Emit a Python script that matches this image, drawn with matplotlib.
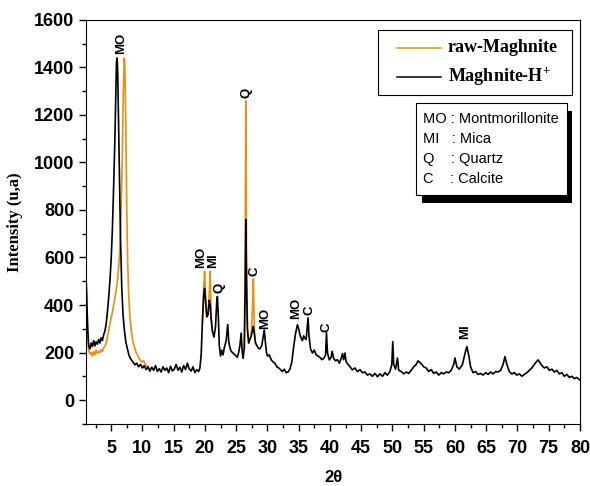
import matplotlib.pyplot as plt
import numpy as np
from matplotlib.patches import Rectangle

import matplotlib

matplotlib.rcParams.update({"font.family": ["Liberation Sans", "DejaVu Sans"],
                            "mathtext.fontset": "custom",
                            "mathtext.rm": "Liberation Serif:bold"})

nan = float("nan")

# Maghnite-H+ (black), 2theta / intensity
acid_2theta = [
    1.0, 1.1, 1.25, 1.4, 1.6, 1.8, 2.0, 2.2, 2.4, 2.6, 2.8, 3.0, 3.2, 3.4, 3.6, 3.8,
    4.0, 4.2, 4.4, 4.6, 4.8, 5.0, 5.2, 5.4, 5.6, 5.75, 5.85, 5.95, 6.05, 6.2, 6.35,
    6.5, 6.7, 6.9, 7.1, 7.35, 7.6, 7.9, 8.2, 8.5, 8.8, 9.1, 9.4, 9.7, 10.0, 10.3,
    10.6, 10.9, 11.2, 11.5, 11.8, 12.1, 12.4, 12.7, 13.0, 13.3, 13.6, 13.9, 14.2,
    14.5, 14.8, 15.1, 15.4, 15.7, 16.0, 16.3, 16.6, 16.9, 17.2, 17.5, 17.8, 18.1,
    18.4, 18.7, 19.0, 19.2, 19.4, 19.6, 19.8, 19.95, 20.1, 20.3, 20.5, 20.7, 20.85,
    21.0, 21.2, 21.45, 21.7, 21.9, 22.0, 22.15, 22.3, 22.5, 22.7, 22.9, 23.1, 23.4,
    23.65, 23.8, 24.0, 24.2, 24.5, 24.8, 25.0, 25.2, 25.4, 25.6, 25.8, 25.95, 26.1,
    26.3, 26.45, 26.55, 26.65, 26.8, 27.0, 27.2, 27.4, 27.6, 27.75, 27.9, 28.1,
    28.3, 28.5, 28.8, 29.1, 29.35, 29.5, 29.65, 29.85, 30.0, 30.3, 30.6, 30.9,
    31.2, 31.5, 31.8, 32.1, 32.4, 32.7, 33.0, 33.3, 33.6, 33.9, 34.2, 34.5, 34.8,
    35.0, 35.2, 35.4, 35.6, 35.8, 36.0, 36.2, 36.35, 36.5, 36.65, 36.9, 37.2, 37.5,
    37.8, 38.1, 38.4, 38.7, 39.0, 39.3, 39.45, 39.6, 39.9, 40.2, 40.35, 40.6, 40.9,
    41.2, 41.5, 41.8, 42.0, 42.2, 42.4, 42.6, 42.9, 43.2, 43.6, 44.0, 44.4, 44.8,
    45.2, 45.6, 46.0, 46.4, 46.8, 47.2, 47.6, 48.0, 48.4, 48.8, 49.2, 49.6, 49.9,
    50.05, 50.2, 50.5, 50.8, 51.0, 51.4, 51.8, 52.2, 52.6, 53.0, 53.4, 53.8, 54.1,
    54.4, 54.7, 55.0, 55.4, 55.8, 56.2, 56.6, 57.0, 57.4, 57.8, 58.2, 58.6, 59.0,
    59.4, 59.8, 60.0, 60.3, 60.7, 61.2, 61.6, 61.9, 62.2, 62.5, 62.9, 63.3, 63.7,
    64.1, 64.5, 64.9, 65.3, 65.7, 66.1, 66.5, 66.9, 67.3, 67.7, 68.0, 68.3, 68.7,
    69.1, 69.5, 69.9, 70.3, 70.7, 71.1, 71.5, 71.9, 72.3, 72.7, 73.0, 73.3, 73.6,
    73.9, 74.3, 74.7, 75.1, 75.5, 75.9, 76.3, 76.7, 77.1, 77.5, 77.9, 78.3, 78.7,
    79.1, 79.5, 80.0]
acid_int = [
    510, 420, 300, 230, 215, 240, 225, 250, 228, 245, 235, 255, 240, 262, 250, 275,
    290, 320, 370, 430, 500, 590, 720, 900, 1100, 1300, 1420, 1440, 1380, 1150, 900,
    680, 470, 360, 300, 245, 215, 185, 170, 160, 148, 155, 140, 150, 135, 145,
    128, 140, 122, 138, 125, 145, 120, 132, 118, 140, 125, 135, 115,
    142, 122, 130, 150, 125, 138, 118, 145, 128, 155, 130, 122, 140,
    115, 128, 120, 135, 190, 330, 440, 470, 420, 350, 360, 420, 400,
    340, 290, 265, 310, 420, 436, 350, 230, 185, 210, 190, 220, 250,
    318, 250, 220, 205, 198, 190, 185, 180, 200, 230, 282, 210, 175,
    220, 480, 760, 500, 300, 240, 255, 270, 290, 310, 280, 240,
    230, 220, 215, 230, 270, 295, 250, 200, 185, 190, 170, 160,
    155, 140, 135, 128, 120, 130, 115, 118, 130, 160, 225, 280, 317,
    300, 275, 260, 250, 270, 260, 255, 300, 346, 270, 215, 198, 210,
    190, 185, 180, 170, 175, 190, 283, 200, 169, 180, 205, 175, 165,
    170, 155, 175, 195, 170, 198, 160, 150, 140, 127, 135, 120, 128,
    115, 118, 105, 110, 100, 112, 98, 110, 100, 115, 105, 120, 150,
    246, 150, 130, 177, 125, 120, 110, 118, 112, 125, 140, 150, 165,
    158, 150, 140, 135, 120, 128, 112, 118, 105, 115, 110, 118, 115,
    125, 150, 177, 140, 130, 150, 195, 225, 190, 140, 115, 120, 108,
    112, 105, 115, 108, 118, 110, 120, 118, 125, 150, 183, 150, 120,
    110, 115, 105, 110, 100, 108, 115, 125, 135, 150, 160, 169, 158,
    145, 135, 140, 125, 130, 118, 125, 110, 115, 100, 108, 95, 100,
    90, 95, 84]

# raw-Maghnite (orange), only where it differs from the acid-treated curve
raw_2theta = [
    1.0, 1.1, 1.25, 1.4, 1.6, 1.8, 2.0, 2.2, 2.4, 2.6, 2.8, 3.0, 3.2, 3.4, 3.6, 3.8,
    4.0, 4.2, 4.4, 4.6, 4.8, 5.0, 5.2, 5.4, 5.6, 5.8, 6.0, 6.2, 6.4, 6.6, 6.8, 6.95,
    7.1, 7.2, 7.35, 7.5, 7.65, 7.8, 8.0, 8.2, 8.45, 8.7, 9.0, 9.3, 9.6, 9.9, 10.2,
    10.5, 10.8, 11.2, nan,
    19.6, 19.8, 19.95, 20.1, 20.3, 20.5, 20.7, 20.85, 21.0, 21.2, nan,
    26.3, 26.45, 26.55, 26.65, 26.8, 27.0, 27.2, 27.4, 27.6, 27.75, 27.9, 28.1]
raw_int = [
    500, 400, 280, 210, 195, 200, 185, 205, 190, 210, 195, 205, 200, 212, 205, 220,
    225, 240, 265, 290, 320, 345, 370, 400, 430, 460, 500, 560, 640, 800, 1050, 1300,
    1440, 1400, 1150, 800, 580, 450, 350, 300, 250, 225, 200, 185, 170, 160, 165,
    150, 140, 122, nan,
    330, 470, 542, 440, 350, 360, 450, 542, 360, 290, nan,
    220, 700, 1259, 650, 300, 240, 255, 270, 380, 510, 300, 240]

# phase labels: 2theta, intensity at label foot, text
label_2theta = [6.55, 19.45, 21.25, 22.4, 26.6, 28.0, 29.6, 34.6, 36.7, 39.4, 61.7]
label_int = [1455, 555, 555, 450, 1270, 520, 300, 340, 360, 285, 255]
label_text = ["MO", "MO", "MI", "Q", "Q", "C", "MO", "MO", "C", "C", "MI"]

phase_lines = ["MO : Montmorillonite", "MI   : Mica", "Q    : Quartz", "C    : Calcite"]

fig = plt.figure(figsize=(5.9, 4.86), dpi=100)
ax = fig.add_axes([0.146, 0.128, 0.837, 0.831])

ax.plot(raw_2theta, raw_int, color="#e8900e", lw=1.2)
ax.plot(acid_2theta, acid_int, color="black", lw=1.2)

for x, y, t in zip(label_2theta, label_int, label_text):
    ax.text(x, y, t, rotation=90, ha="center", va="bottom",
            fontsize=9.5, fontweight="bold")

ax.set_xlim(1, 80)
ax.set_ylim(-100, 1600)
ax.set_xticks(np.arange(5, 81, 5))
ax.set_xticks(np.arange(2.5, 80, 5), minor=True)
ax.set_yticks(np.arange(0, 1601, 200))
ax.set_yticks(np.arange(-100, 1600, 200), minor=True)
ax.tick_params(which="both", direction="out", top=False, right=False, width=1)
ax.tick_params(which="major", length=5, labelsize=13)
ax.tick_params(which="minor", length=3)
for lab in ax.get_xticklabels() + ax.get_yticklabels():
    lab.set_fontweight("bold")
ax.tick_params(axis="x", pad=7)

ax.set_xlabel("2θ", fontsize=12, fontweight="bold", labelpad=9)
ax.set_ylabel("Intensity (u,a)", fontsize=12, fontweight="bold",
              family="Liberation Serif", labelpad=8)

# series legend
W, H = 590.0, 486.0
fig.patches.append(Rectangle((378 / W, 1 - 95 / H), 194 / W, 65 / H, transform=fig.transFigure,
                             facecolor="white", edgecolor="black", lw=0.8))
fig.add_artist(plt.Line2D([397 / W, 441 / W], [1 - 48 / H] * 2, color="#e8900e", lw=1.1))
fig.add_artist(plt.Line2D([397 / W, 441 / W], [1 - 77 / H] * 2, color="black", lw=1.1))
fig.text(448 / W, 1 - 48 / H, "raw-Maghnite", family="Liberation Serif", fontweight="bold",
         fontsize=13, va="center")
fig.text(448 / W, 1 - 77 / H, r"Maghnite-H$^{+}$", family="Liberation Serif", fontweight="bold",
         fontsize=13, va="center")

# phase key with shadow
fig.patches.append(Rectangle((422 / W, 1 - 203 / H), 150 / W, 92 / H, transform=fig.transFigure,
                             facecolor="black", edgecolor="black", lw=0))
fig.patches.append(Rectangle((416 / W, 1 - 195 / H), 151 / W, 92 / H, transform=fig.transFigure,
                             facecolor="white", edgecolor="black", lw=0.8))
for i, line in enumerate(phase_lines):
    fig.text(423 / W, 1 - (119 + 20 * i) / H, line, fontsize=10.5, va="center")

plt.savefig("out.png", dpi=100)
plt.close()
